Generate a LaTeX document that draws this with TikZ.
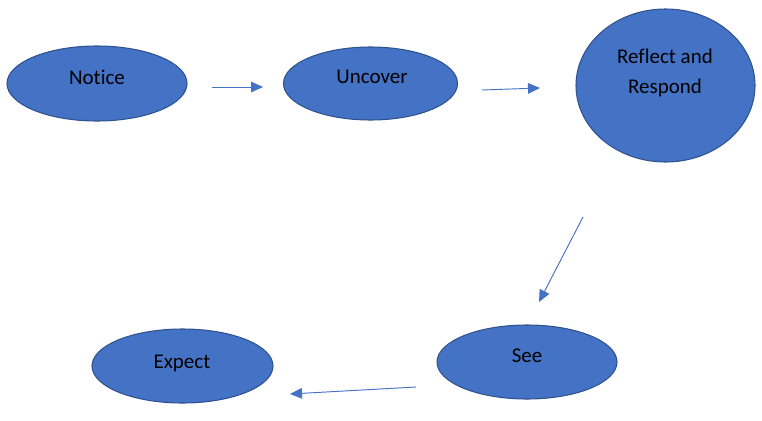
\documentclass[tikz,border=0pt]{standalone}
\usepackage{fontspec}
\setmainfont{Carlito}[Ligatures={NoCommon}]
\usepackage{tikz}
\usepackage{xcolor}
\usetikzlibrary{shapes.geometric, arrows.meta, positioning}
\definecolor{Stage_Blue}{HTML}{4472C4}
\definecolor{Stage_Edge}{HTML}{2F528F}

\begin{document}
\begin{tikzpicture}[x=0.03cm, y=-0.03cm,
    stage/.style={ellipse, draw=Stage_Edge, fill=Stage_Blue, line width=0.9pt, inner sep=0pt},
    lbl/.style={font=\fontsize{17.9}{25.5}\selectfont, align=center, text=black},
    flow/.style={draw=Stage_Blue, line width=0.8pt, -{Triangle[length=0.36cm, width=0.32cm]}}]
    \useasboundingbox (0,0) rectangle (762,420);

    % Top row
    \node[stage, minimum width=5.4cm, minimum height=2.25cm] (notice) at (97,83.5) {};
    \node[lbl] (noticeText) at (97,77) {Notice};
    \node[stage, minimum width=5.22cm, minimum height=2.19cm] (uncover) at (370.5,83.5) {};
    \node[lbl] (uncoverText) at (372,77) {Uncover};
    \node[stage, minimum width=5.37cm, minimum height=4.59cm] (reflect) at (665.5,85.5) {};
    \node[lbl] (reflectText) at (665,73) {Reflect and\\Respond};

    % Bottom row
    \node[stage, minimum width=5.4cm, minimum height=2.22cm] (see) at (527,362) {};
    \node[lbl] (seeText) at (527,356) {See};
    \node[stage, minimum width=5.43cm, minimum height=2.22cm] (expect) at (182.5,366) {};
    \node[lbl] (expectText) at (182,363) {Expect};

    % Arrow ends
    \coordinate (a1s) at (212,87);  \coordinate (a1e) at (263,87);
    \coordinate (a2s) at (482,90);  \coordinate (a2e) at (540,88);
    \coordinate (a3s) at (583,217); \coordinate (a3e) at (539,302);
    \coordinate (a4s) at (416,387); \coordinate (a4e) at (290,394);

    \draw[flow] (a1s) -- (a1e);
    \draw[flow] (a2s) -- (a2e);
    \draw[flow] (a3s) -- (a3e);
    \draw[flow] (a4s) -- (a4e);
\end{tikzpicture}
\end{document}
